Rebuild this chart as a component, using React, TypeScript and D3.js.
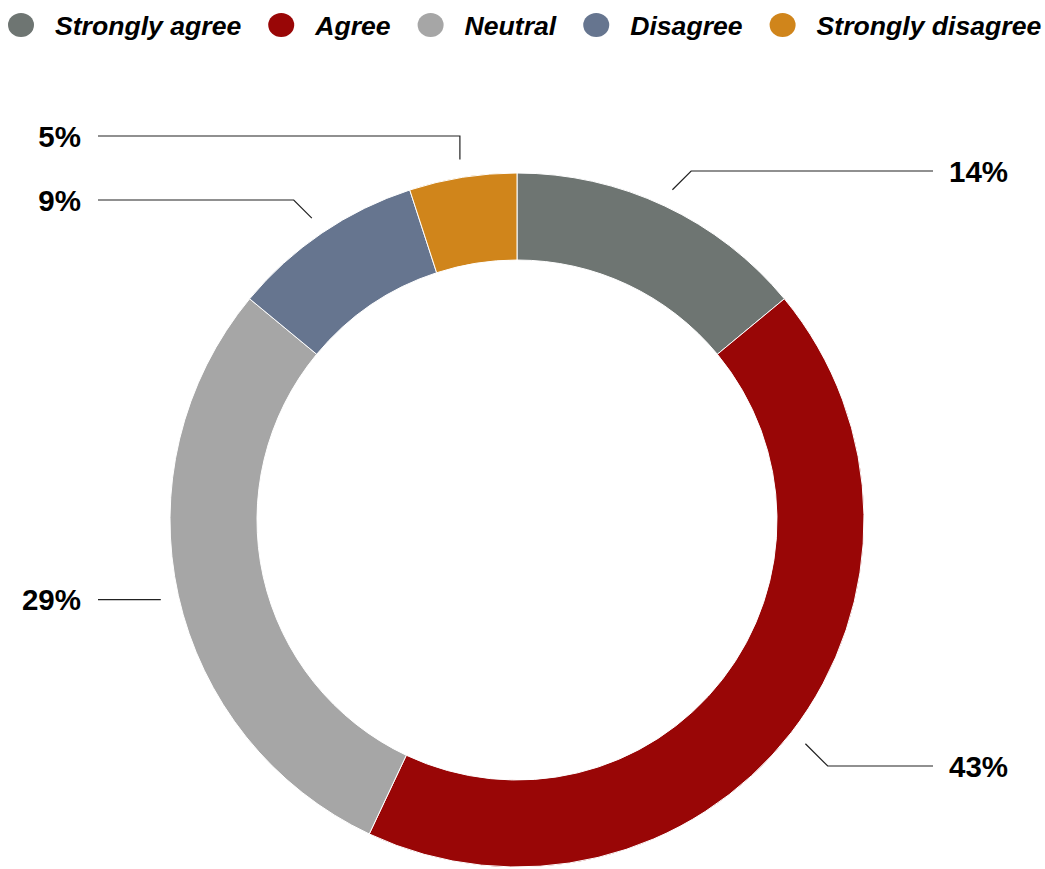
import React, { useEffect, useRef } from "react";
import * as d3 from "d3";

const categories = ["Strongly agree", "Agree", "Neutral", "Disagree", "Strongly disagree"];
const values = [14, 43, 29, 9, 5];
const colors = ["#6e7572", "#990606", "#a6a6a6", "#66758f", "#d0851b"];
const labelTexts = ["14%", "43%", "29%", "9%", "5%"];
// label layout (y of label row, elbow style)
const labelY = [171, 766, 601, 200, 136];
const labelElbow = ["diag", "diag", "none", "diag", "vertical"];

const W = 1045;
const H = 869;
const CX = 517;
const CY = 520;
const R_OUT = 347;
const R_IN = 260;
const FONT = "'Liberation Sans', Arial, Helvetica, sans-serif";

export default function App() {
  const ref = useRef<SVGSVGElement | null>(null);

  useEffect(() => {
    document.body.style.margin = "0";
    const svg = d3.select(ref.current);
    svg.selectAll("*").remove();

    const pie = d3.pie<number>().sort(null).value((d) => d)(values);
    const arc = d3.arc<d3.PieArcDatum<number>>().innerRadius(R_IN).outerRadius(R_OUT);

    const g = svg.append("g").attr("transform", `translate(${CX},${CY})`);
    g.selectAll("path.slice")
      .data(pie)
      .enter()
      .append("path")
      .attr("class", "slice")
      .attr("d", arc as any)
      .attr("fill", (_d, i) => colors[i])
      .attr("stroke", "#ffffff")
      .attr("stroke-width", 1);

    // leader lines and labels
    const rStart = 365;
    pie.forEach((d, i) => {
      const a = (d.startAngle + d.endAngle) / 2;
      const x1 = CX + rStart * Math.sin(a);
      const y1 = CY - rStart * Math.cos(a);
      const right = Math.sin(a) > 0;
      const ly = labelY[i];
      let x2 = x1;
      if (labelElbow[i] === "diag") {
        x2 = x1 + (right ? 1 : -1) * Math.abs(y1 - ly);
      }
      const y2 = labelElbow[i] === "none" ? y1 : ly;
      const xEnd = right ? 933 : 98;
      svg
        .append("path")
        .attr("d", `M${x1},${y1}L${x2},${y2}L${xEnd},${y2}`)
        .attr("fill", "none")
        .attr("stroke", "#222")
        .attr("stroke-width", 1.2);
      svg
        .append("text")
        .attr("x", right ? 949 : 81)
        .attr("y", y2 + 10.5)
        .attr("text-anchor", right ? "start" : "end")
        .attr("font-family", FONT)
        .attr("font-weight", "bold")
        .attr("font-size", 29.5)
        .attr("fill", "#000")
        .text(labelTexts[i]);
    });

    // legend
    const lg = svg.append("g");
    let x = 21;
    categories.forEach((c, i) => {
      lg.append("ellipse")
        .attr("cx", x)
        .attr("cy", 25)
        .attr("rx", 13)
        .attr("ry", 12)
        .attr("fill", colors[i]);
      const t = lg
        .append("text")
        .attr("x", x + 34)
        .attr("y", 34.5)
        .attr("font-family", FONT)
        .attr("font-weight", "bold")
        .attr("font-style", "italic")
        .attr("font-size", 26.6)
        .attr("fill", "#000")
        .text(c);
      const w = (t.node() as SVGTextElement).getComputedTextLength();
      x = x + 34 + w + 40;
    });
  }, []);

  return <svg ref={ref} width={W} height={H} style={{ display: "block" }} />;
}
